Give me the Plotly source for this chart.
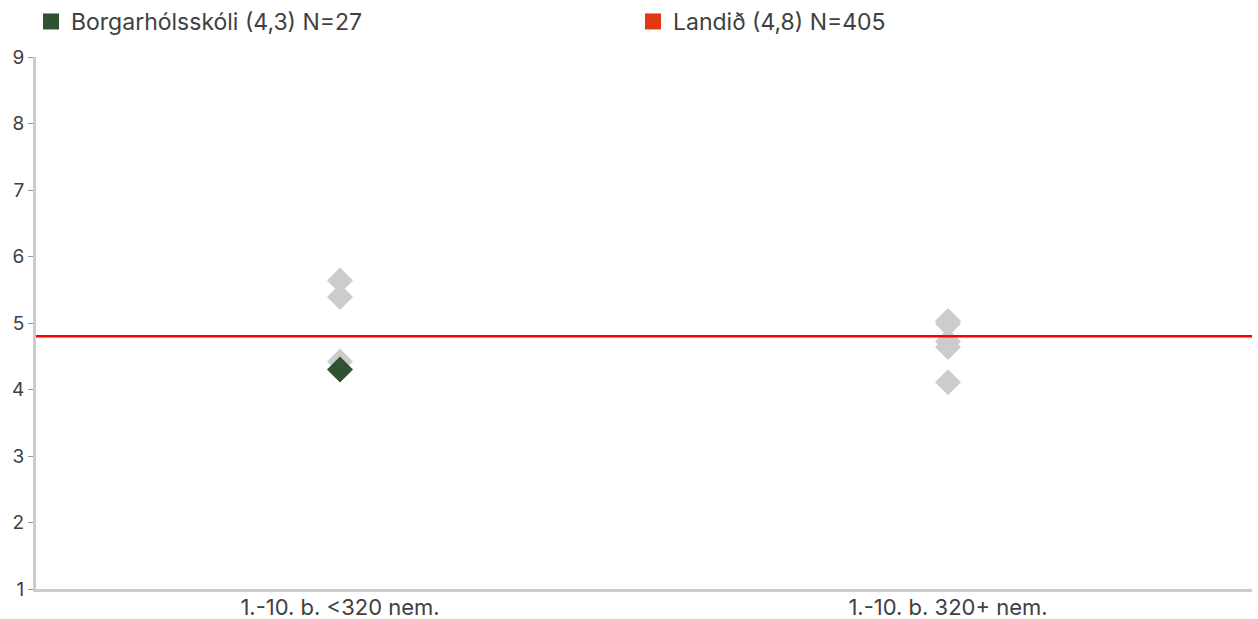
import plotly.graph_objects as go

# Skólaflokkar á x-ás
categories = ["1.-10. b. <320 nem.", "1.-10. b. 320+ nem."]

# Aðrir skólar í hverjum flokki (gráir tíglar)
other_cat = ["1.-10. b. <320 nem."] * 3 + ["1.-10. b. 320+ nem."] * 5
other_vals = [5.64, 5.39, 4.42, 5.03, 4.99, 4.72, 4.64, 4.11]

# Skólinn sjálfur
school_name = "Borgarhólsskóli"
school_cat = ["1.-10. b. <320 nem."]
school_vals = [4.3]
school_n = 27

# Landsmeðaltal
country_name = "Landið"
country_mean = 4.8
country_n = 405

y_ticks = [1, 2, 3, 4, 5, 6, 7, 8, 9]

GREEN = "#2f5230"
RED = "#ff0000"
RED_LEGEND = "#e03a15"
GREY = "#cccccc"
TEXT = "#404040"
FONT = "Inter"

fig = go.Figure()

fig.add_trace(go.Scatter(
    x=other_cat, y=other_vals, mode="markers",
    marker=dict(symbol="diamond", size=20, color=GREY, line=dict(width=0)),
    showlegend=False, hoverinfo="y",
))
fig.add_trace(go.Scatter(
    x=school_cat, y=school_vals, mode="markers",
    marker=dict(symbol="diamond", size=20, color=GREEN, line=dict(width=0)),
    showlegend=False, hoverinfo="y",
))

fig.add_hline(y=country_mean, line=dict(color=RED, width=2.5), layer="above")

def fmt(v):
    return f"{v:.1f}".replace(".", ",")

# Skýringar með ferningstáknum
fig.add_trace(go.Scatter(
    x=[None], y=[None], mode="markers",
    marker=dict(symbol="square", size=17, color=GREEN),
    name=f"{school_name} ({fmt(school_vals[0])}) N={school_n}",
))
fig.add_trace(go.Scatter(
    x=[None], y=[None], mode="markers",
    marker=dict(symbol="square", size=17, color=RED_LEGEND),
    name=f"{country_name} ({fmt(country_mean)}) N={country_n}",
))

fig.update_layout(
    width=1258, height=619,
    margin=dict(l=36, r=6, t=57, b=30),
    paper_bgcolor="white", plot_bgcolor="white",
    font=dict(family=FONT, size=23, color=TEXT),
    legend=dict(
        orientation="h", x=31 / 1258, xref="container", xanchor="left",
        y=1, yref="container", yanchor="top",
        entrywidth=557, font=dict(family=FONT, size=23, color=TEXT),
        itemwidth=30, bgcolor="rgba(0,0,0,0)",
    ),
    xaxis=dict(
        type="category", categoryorder="array", categoryarray=categories,
        range=[-0.5, 1.5], showgrid=False, zeroline=False,
        showline=True, linecolor=GREY, linewidth=3, automargin=False,
        ticks="", ticklabelstandoff=-3,
        tickfont=dict(family=FONT, size=22, color=TEXT),
    ),
    yaxis=dict(
        range=[1, 9], tickvals=y_ticks, showgrid=False, zeroline=False,
        showline=True, linecolor=GREY, linewidth=3, automargin=False,
        ticks="outside", ticklen=5, tickcolor="#999999", tickwidth=1,
        tickfont=dict(family=FONT, size=19, color=TEXT),
    ),
    showlegend=True,
)

fig.write_html("out.html")
